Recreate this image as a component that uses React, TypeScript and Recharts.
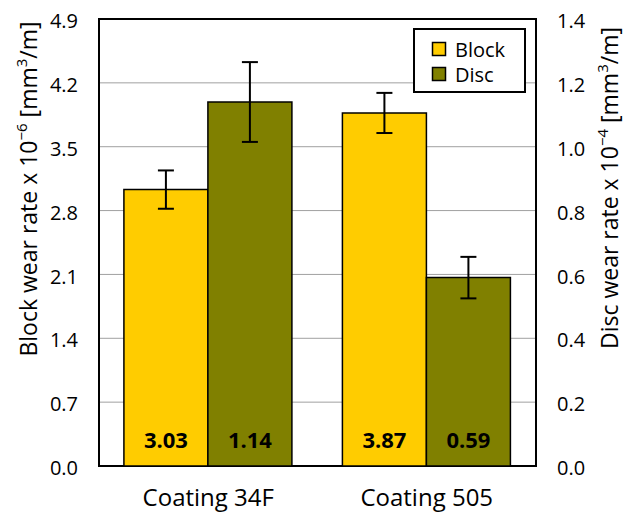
import React from "react";
import {
  ComposedChart,
  Bar,
  XAxis,
  YAxis,
  CartesianGrid,
  ErrorBar,
  LabelList,
  Legend,
  ReferenceArea,
} from "recharts";

// categories and measured wear rates
const categories = ["Coating 34F", "Coating 505"];
const blockRate = [3.03, 3.87]; // x 10^-6 mm^3/m
const blockErr = [0.21, 0.22];
const discRate = [1.14, 0.59]; // x 10^-4 mm^3/m
const discErr = [0.125, 0.065];

const leftTicks = [0, 0.7, 1.4, 2.1, 2.8, 3.5, 4.2, 4.9];
const rightTicks = [0, 0.2, 0.4, 0.6, 0.8, 1.0, 1.2, 1.4];

const BLOCK = "#FFCC00";
const DISC = "#808000";
const FONT = "'Open Sans', sans-serif";

const data = categories.map((name, i) => ({
  name,
  block: blockRate[i],
  blockErr: blockErr[i],
  disc: discRate[i],
  discErr: discErr[i],
}));

function AxisTitle({ px, py, prefix, power }: { px: number; py: number; prefix: string; power: string }) {
  return (
    <text
      x={px}
      y={py}
      transform={`rotate(-90 ${px} ${py})`}
      textAnchor="middle"
      fontSize={23}
      fontFamily={FONT}
      fill="#000"
    >
      {prefix} x 10
      <tspan dy={-10} fontSize={15}>
        {power}
      </tspan>
      <tspan dy={10}> [mm</tspan>
      <tspan dy={-10} fontSize={15}>
        3
      </tspan>
      <tspan dy={10}>/m]</tspan>
    </text>
  );
}

const renderValue = (props: any) => {
  const { x, y, width, height, value } = props;
  return (
    <text
      x={Number(x) + Number(width) / 2}
      y={Number(y) + Number(height) - 18}
      textAnchor="middle"
      fontWeight="bold"
      fontSize={22}
      fontFamily={FONT}
      fill="#000"
    >
      {Number(value).toFixed(2)}
    </text>
  );
};

function LegendBox() {
  return (
    <svg width={113} height={65} style={{ display: "block" }}>
      <rect x={1} y={1} width={111} height={63} fill="#fff" stroke="#000" strokeWidth={2} />
      <rect x={19.5} y={14.5} width={13} height={13} fill={BLOCK} stroke="#000" strokeWidth={1.5} />
      <text x={42} y={29} fontSize={20} fontFamily={FONT} fill="#000">
        Block
      </text>
      <rect x={19.5} y={39.5} width={13} height={13} fill={DISC} stroke="#000" strokeWidth={1.5} />
      <text x={42} y={54} fontSize={20} fontFamily={FONT} fill="#000">
        Disc
      </text>
    </svg>
  );
}

export default function App() {
  return (
    <div style={{ position: "absolute", left: 0, top: 0, background: "#fff" }}>
      <ComposedChart
        width={625}
        height={513}
        data={data}
        margin={{ top: 19, right: 0, bottom: 0, left: 0 }}
        barCategoryGap="11.4%"
        barGap={0}
        style={{ fontFamily: FONT }}
      >
        <CartesianGrid yAxisId="left" vertical={false} stroke="#a0a0a0" strokeWidth={1} />
        <XAxis
          dataKey="name"
          height={47}
          axisLine={false}
          tickLine={false}
          tickSize={0}
          tickMargin={23}
          tick={{ fontSize: 24, fill: "#000" }}
        />
        <YAxis
          yAxisId="left"
          width={99}
          domain={[0, 4.9]}
          ticks={leftTicks}
          interval={0}
          axisLine={false}
          tickLine={false}
          tickSize={0}
          tickMargin={21}
          tickFormatter={(v: number) => v.toFixed(1)}
          tick={{ fontSize: 20, fill: "#000", dy: 2 }}
          label={<AxisTitle px={37} py={189} prefix="Block wear rate" power="−6" />}
        />
        <YAxis
          yAxisId="right"
          orientation="right"
          width={89}
          domain={[0, 1.4]}
          ticks={rightTicks}
          interval={0}
          axisLine={false}
          tickLine={false}
          tickSize={0}
          tickMargin={21}
          tickFormatter={(v: number) => v.toFixed(1)}
          tick={{ fontSize: 20, fill: "#000", dy: 2 }}
          label={<AxisTitle px={618} py={188} prefix="Disc wear rate" power="−4" />}
        />
        <Bar
          yAxisId="left"
          dataKey="block"
          name="Block"
          fill={BLOCK}
          stroke="#000"
          strokeWidth={1.5}
          isAnimationActive={false}
        >
          <ErrorBar dataKey="blockErr" width={8} stroke="#000" strokeWidth={2} />
          <LabelList dataKey="block" content={renderValue} />
        </Bar>
        <Bar
          yAxisId="right"
          dataKey="disc"
          name="Disc"
          fill={DISC}
          stroke="#000"
          strokeWidth={1.5}
          isAnimationActive={false}
        >
          <ErrorBar dataKey="discErr" width={8} stroke="#000" strokeWidth={2} />
          <LabelList dataKey="disc" content={renderValue} />
        </Bar>
        <ReferenceArea
          yAxisId="left"
          y1={0}
          y2={4.9}
          fill="none"
          stroke="#000"
          strokeWidth={2}
          ifOverflow="visible"
        />
        <Legend
          layout="vertical"
          align="center"
          verticalAlign="middle"
          wrapperStyle={{ left: 413, top: 28, width: 113, height: 65 }}
          content={() => <LegendBox />}
        />
      </ComposedChart>
    </div>
  );
}
